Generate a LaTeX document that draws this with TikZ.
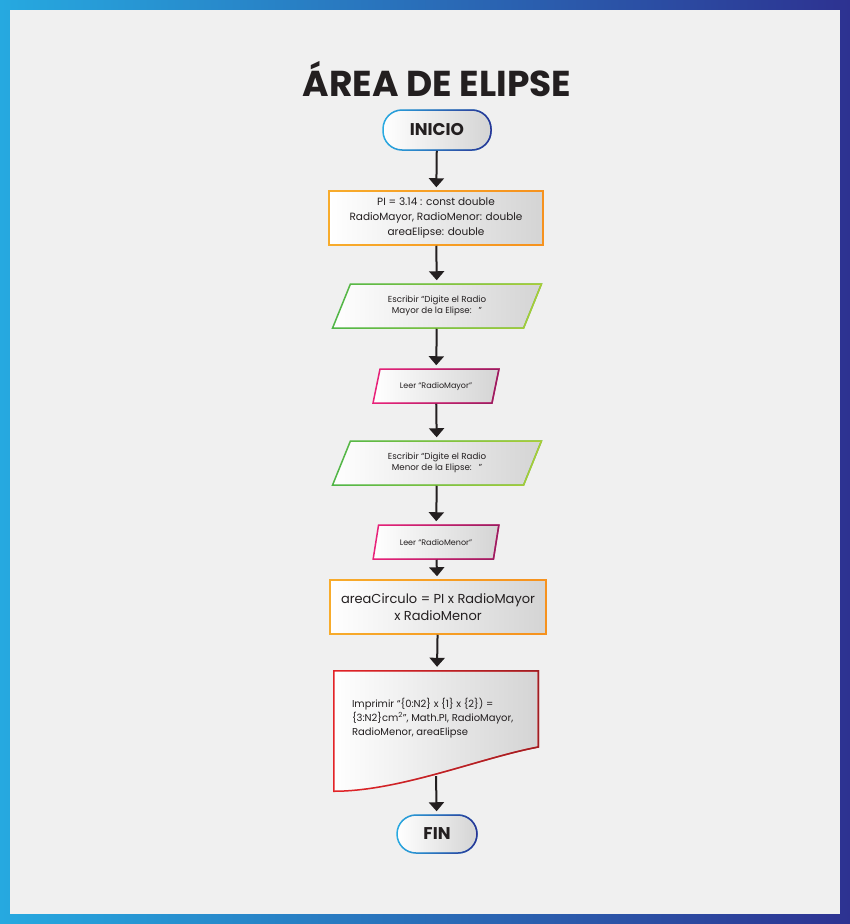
\documentclass[tikz,border=0pt]{standalone}
\usepackage{fontspec}
\setmainfont{Poppins}
\usetikzlibrary{positioning,arrows.meta,shapes.geometric,fadings}

\definecolor{frameL}{RGB}{38,169,224}
\definecolor{frameR}{RGB}{45,50,145}
\definecolor{paper}{RGB}{240,240,240}
\definecolor{shadeR}{RGB}{212,212,212}
\definecolor{ink}{RGB}{35,31,32}
\definecolor{termA}{RGB}{41,171,226}
\definecolor{termB}{RGB}{46,49,146}
\definecolor{orangeA}{RGB}{248,172,44}
\definecolor{orangeB}{RGB}{246,146,30}
\definecolor{greenA}{RGB}{80,182,72}
\definecolor{greenB}{RGB}{172,206,55}
\definecolor{pinkA}{RGB}{234,34,122}
\definecolor{pinkB}{RGB}{150,30,95}
\definecolor{redA}{RGB}{228,36,40}
\definecolor{redB}{RGB}{158,30,34}

\tikzfading[name=toright, left color=transparent!100, right color=transparent!0]

\begin{document}
\begin{tikzpicture}[x=1pt, y=-1pt, every node/.style={text=ink},
  base/.style={align=center, inner sep=0pt, left color=white, right color=shadeR, line width=1.5pt},
  terminal/.style={base, rectangle, rounded corners=19pt, minimum width=108, minimum height=40,
    draw=termA, postaction={draw=termB, line width=1.5pt, path fading=toright},
    font=\bfseries\fontsize{17}{20}\selectfont},
  process/.style={base, rectangle, minimum width=214, minimum height=54,
    draw=orangeA, postaction={draw=orangeB, line width=1.5pt, path fading=toright}},
  askbox/.style={base, trapezium, trapezium left angle=63, trapezium right angle=117,
    trapezium stretches=true, minimum width=209, minimum height=44,
    draw=greenA, postaction={draw=greenB, line width=1.5pt, path fading=toright},
    font=\fontsize{8.7}{11}\selectfont},
  readbox/.style={base, trapezium, trapezium left angle=61, trapezium right angle=119,
    trapezium stretches=true, minimum width=126, minimum height=34,
    draw=pinkA, postaction={draw=pinkB, line width=1.5pt, path fading=toright},
    font=\fontsize{8}{10}\selectfont},
  printbox/.style={rectangle, inner sep=0pt, minimum width=206, minimum height=122, fill=paper,
    path picture={
      \path[left color=white, right color=shadeR, draw=redA, line width=1.5pt,
        postaction={draw=redB, line width=1.5pt, path fading=toright}]
        ([xshift=0.75pt,yshift=-0.75pt]path picture bounding box.north west)
        -- ([xshift=-0.75pt,yshift=-0.75pt]path picture bounding box.north east)
        -- ([xshift=-0.75pt,yshift=45pt]path picture bounding box.south east)
        .. controls ([xshift=-59pt,yshift=34pt]path picture bounding box.south east)
        and ([xshift=67pt,yshift=0.75pt]path picture bounding box.south west)
        .. ([xshift=0.75pt,yshift=0.75pt]path picture bounding box.south west) -- cycle;
    }},
  flow/.style={-{Triangle[width=15pt,length=9pt]}, line width=2pt, draw=ink, shorten >=3pt}]

% Frame and paper
\shade[left color=frameL, right color=frameR] (0,0) rectangle (850,924);
\fill[paper] (10,10) rectangle (840,914);

% Title
\node[font=\bfseries\fontsize{36}{40}\selectfont] (title) at (437,79) {ÁREA DE ELIPSE};

% Steps
\node[terminal] (start) at (437,130) {INICIO};
\node[process, font=\fontsize{10.5}{15}\selectfont] (decl) at (436,218)
  {PI = 3.14 : const double\\RadioMayor, RadioMenor: double\\areaElipse: double};
\node[askbox] (askmayor) at (437,306) {Escribir “Digite el Radio\\Mayor de la Elipse:\ \ \ ”};
\node[readbox] (readmayor) at (436,386) {Leer “RadioMayor”};
\node[askbox] (askmenor) at (437,463) {Escribir “Digite el Radio\\Menor de la Elipse:\ \ \ ”};
\node[readbox] (readmenor) at (436,542) {Leer “RadioMenor”};
\node[process, minimum width=216, font=\fontsize{13}{17}\selectfont] (calc) at (438,607)
  {areaCirculo = PI x RadioMayor\\x RadioMenor};
\node[printbox] (print) at (436,731)
  {\begin{minipage}[c][122pt][t]{206pt}\raggedright\leftskip=19pt\fontsize{10}{14}\selectfont
   \vspace*{28pt}Imprimir “\{0:N2\} x \{1\} x \{2\}) =\\\{3:N2\}cm\textsuperscript{2}”, Math.PI, RadioMayor,\\RadioMenor, areaElipse\end{minipage}};
\node[terminal, minimum width=80, minimum height=38] (stop) at (437,834) {FIN};

% Connections
\draw[flow] (start) -- (decl);
\draw[flow] (decl) -- (askmayor);
\draw[flow] (askmayor) -- (readmayor);
\draw[flow] (readmayor) -- (askmenor);
\draw[flow] (askmenor) -- (readmenor);
\draw[flow] (readmenor) -- (calc);
\draw[flow] (calc) -- (print);
\coordinate (printout) at ([yshift=16pt]print.south);
\draw[flow] (printout) -- (stop);

\end{tikzpicture}
\end{document}
